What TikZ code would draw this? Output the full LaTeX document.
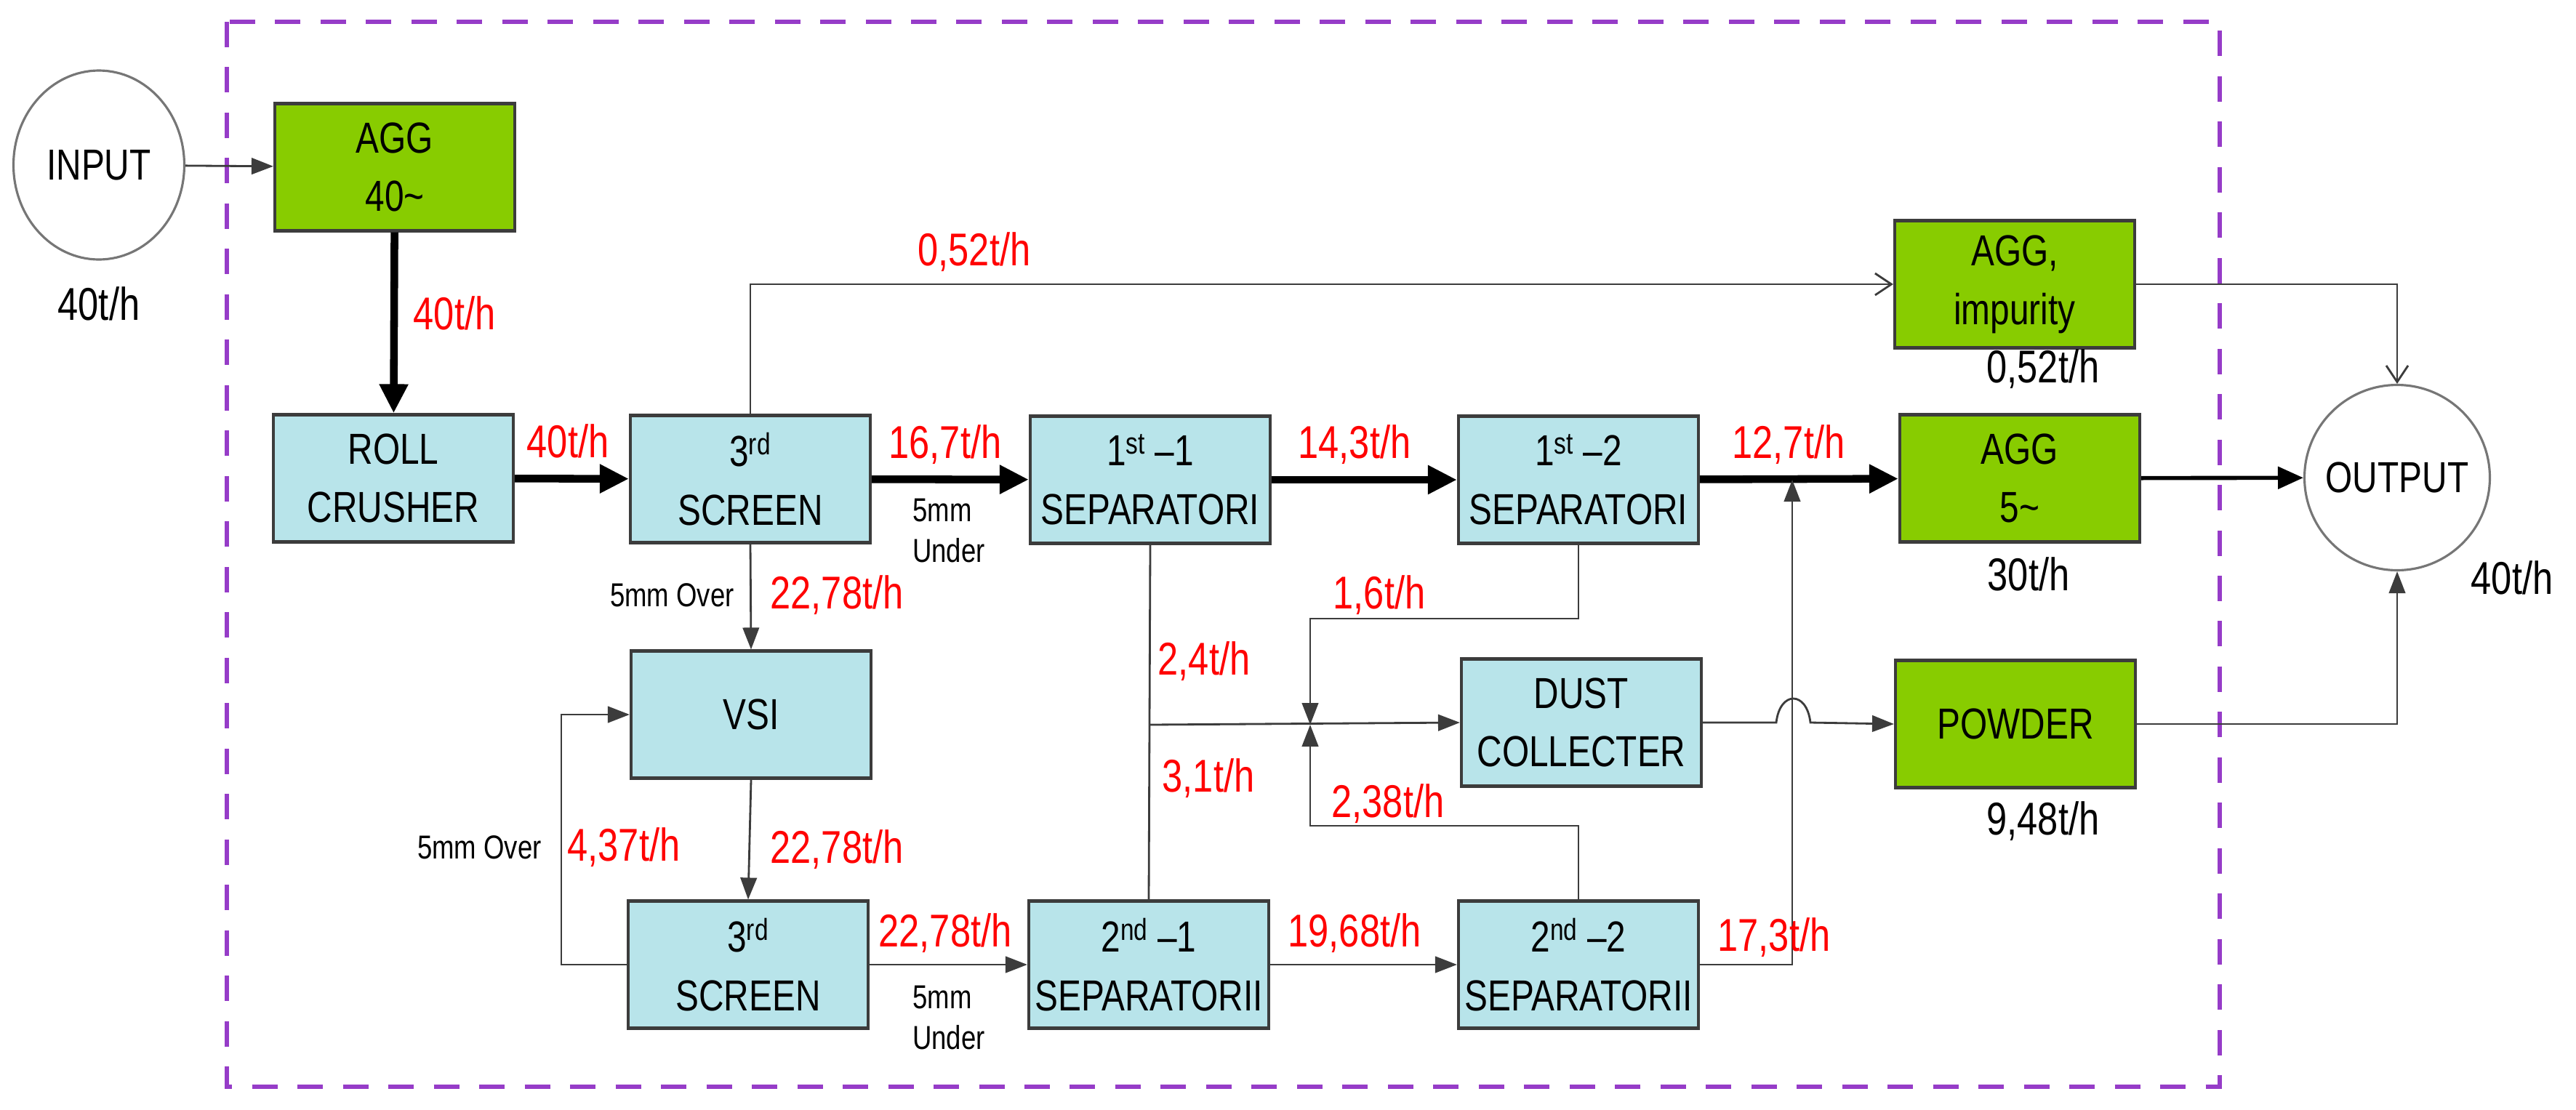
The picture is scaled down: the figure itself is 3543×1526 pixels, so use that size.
\documentclass[tikz,border=0pt]{standalone}
\usepackage{fontspec}
\setmainfont{Liberation Sans}[FakeStretch=0.8]
\usetikzlibrary{arrows.meta,shapes.geometric}
\definecolor{boxc}{RGB}{184,228,234}
\definecolor{grn}{RGB}{136,204,0}
\definecolor{edge}{RGB}{60,60,60}
\definecolor{purp}{RGB}{150,60,200}
\begin{document}
\begin{tikzpicture}[x=0.02cm,y=-0.02cm,
 bx/.style={draw=edge,line width=2.4pt,minimum width=6.6cm,minimum height=3.5cm,align=center,inner sep=0pt,font=\fontsize{34}{46}\selectfont},
 cy/.style={bx,fill=boxc},
 gr/.style={bx,fill=grn},
 thk/.style={line width=6pt,-{Triangle[length=0.8cm,width=0.75cm]}},
 med/.style={line width=3.2pt,-{Triangle[length=0.7cm,width=0.6cm]}},
 thn/.style={line width=1.6pt,draw=edge,-{Triangle[length=0.6cm,width=0.45cm]}},
 opn/.style={line width=1.6pt,draw=edge,-{Straight Barb[length=0.45cm,width=0.6cm]}},
 ln/.style={line width=1.6pt,draw=edge},
 rl/.style={text=red,font=\fontsize{36}{40}\selectfont,inner sep=0pt},
 bl/.style={text=black,font=\fontsize{36}{40}\selectfont,inner sep=0pt},
 sm/.style={text=black,font=\fontsize{26}{32}\selectfont,inner sep=0pt,align=left}]
\useasboundingbox (0,0) rectangle (3543,1526);
\draw[purp,line width=3pt,dash pattern=on 0.7cm off 0.55cm] (312,30) rectangle (3053,1495);
\node[draw=edge!70,line width=1.8pt,ellipse,minimum width=4.7cm,minimum height=5.2cm,font=\fontsize{34}{40}\selectfont] (in) at (136,227) {INPUT};
\node[draw=edge!70,line width=1.8pt,circle,minimum size=5.1cm,font=\fontsize{34}{40}\selectfont] (out) at (3297,657) {OUTPUT};
\node[gr] (agg40) at (543,230) {AGG\\40\textasciitilde};
\node[cy] (roll) at (541,658) {ROLL\\CRUSHER};
\node[cy] (s1) at (1032,659) {3\textsuperscript{rd}\\SCREEN};
\node[cy] (p11) at (1582,660) {1\textsuperscript{st} --1\\SEPARATORI};
\node[cy] (p12) at (2171,660) {1\textsuperscript{st} --2\\SEPARATORI};
\node[gr] (agg5) at (2778,658) {AGG\\5\textasciitilde};
\node[gr] (imp) at (2771,391) {AGG,\\impurity};
\node[cy] (dust) at (2175,994) {DUST\\COLLECTER};
\node[gr] (pow) at (2772,996) {POWDER};
\node[cy] (vsi) at (1033,983) {VSI};
\node[cy] (s2) at (1029,1327) {3\textsuperscript{rd}\\SCREEN};
\node[cy] (p21) at (1580,1327) {2\textsuperscript{nd} --1\\SEPARATORII};
\node[cy] (p22) at (2171,1327) {2\textsuperscript{nd} --2\\SEPARATORII};
\coordinate (j) at (1802,997);
\coordinate (v) at (2465,660);
% connectors
\draw[thn] (in) -- (agg40);
\draw[thk] (agg40) -- (roll);
\draw[thk] (roll) -- (s1);
\draw[thk] (s1) -- (p11);
\draw[thk] (p11) -- (p12);
\draw[thk] (p12) -- (agg5);
\draw[med] (agg5) -- (out);
\draw[opn] (s1.north) |- (imp.west);
\draw[opn] (imp.east) -| (out.north);
\draw[thn] (pow.east) -| (out.south);
\draw[thn] (s1.south) -- (vsi.north);
\draw[thn] (vsi.south) -- (s2.north);
\draw[thn] (s2.west) -- ++(-90,0) |- (vsi.west);
\draw[thn] (s2) -- (p21);
\draw[thn] (p21) -- (p22);
\draw[ln] (p11.south) -- (p21.north);
\draw[thn] (1582,997) -- (dust.west);
\draw[thn] (p12.south) |- (1802,851) -- (j);
\draw[thn] (p22.north) |- (1802,1136) -- (j);
\draw[thn] (p22.east) -| (v);
\draw[thn] (dust.east) -- (2443,994) .. controls (2448,950) and (2485,950) .. (2490,994) -- (pow.west);
% labels
\node[bl] at (136,418) {40t/h};
\node[rl] at (625,431) {40t/h};
\node[rl] at (781,607) {40t/h};
\node[rl] at (1340,347) {0,52t/h};
\node[rl] at (1300,612) {16,7t/h};
\node[rl] at (1863,612) {14,3t/h};
\node[rl] at (2460,612) {12,7t/h};
\node[sm] at (1305,730) {5mm\\Under};
\node[sm,anchor=east] at (1010,819) {5mm Over};
\node[rl] at (1151,819) {22,78t/h};
\node[rl] at (1897,819) {1,6t/h};
\node[rl] at (1656,910) {2,4t/h};
\node[rl] at (1662,1071) {3,1t/h};
\node[rl] at (1909,1106) {2,38t/h};
\node[sm,anchor=east] at (745,1166) {5mm Over};
\node[rl] at (858,1166) {4,37t/h};
\node[rl] at (1151,1169) {22,78t/h};
\node[rl] at (1300,1284) {22,78t/h};
\node[rl] at (1863,1284) {19,68t/h};
\node[rl] at (2440,1290) {17,3t/h};
\node[sm] at (1305,1400) {5mm\\Under};
\node[bl] at (2810,508) {0,52t/h};
\node[bl] at (2790,790) {30t/h};
\node[bl] at (2810,1130) {9,48t/h};
\node[bl] at (3455,795) {40t/h};
\end{tikzpicture}
\end{document}
